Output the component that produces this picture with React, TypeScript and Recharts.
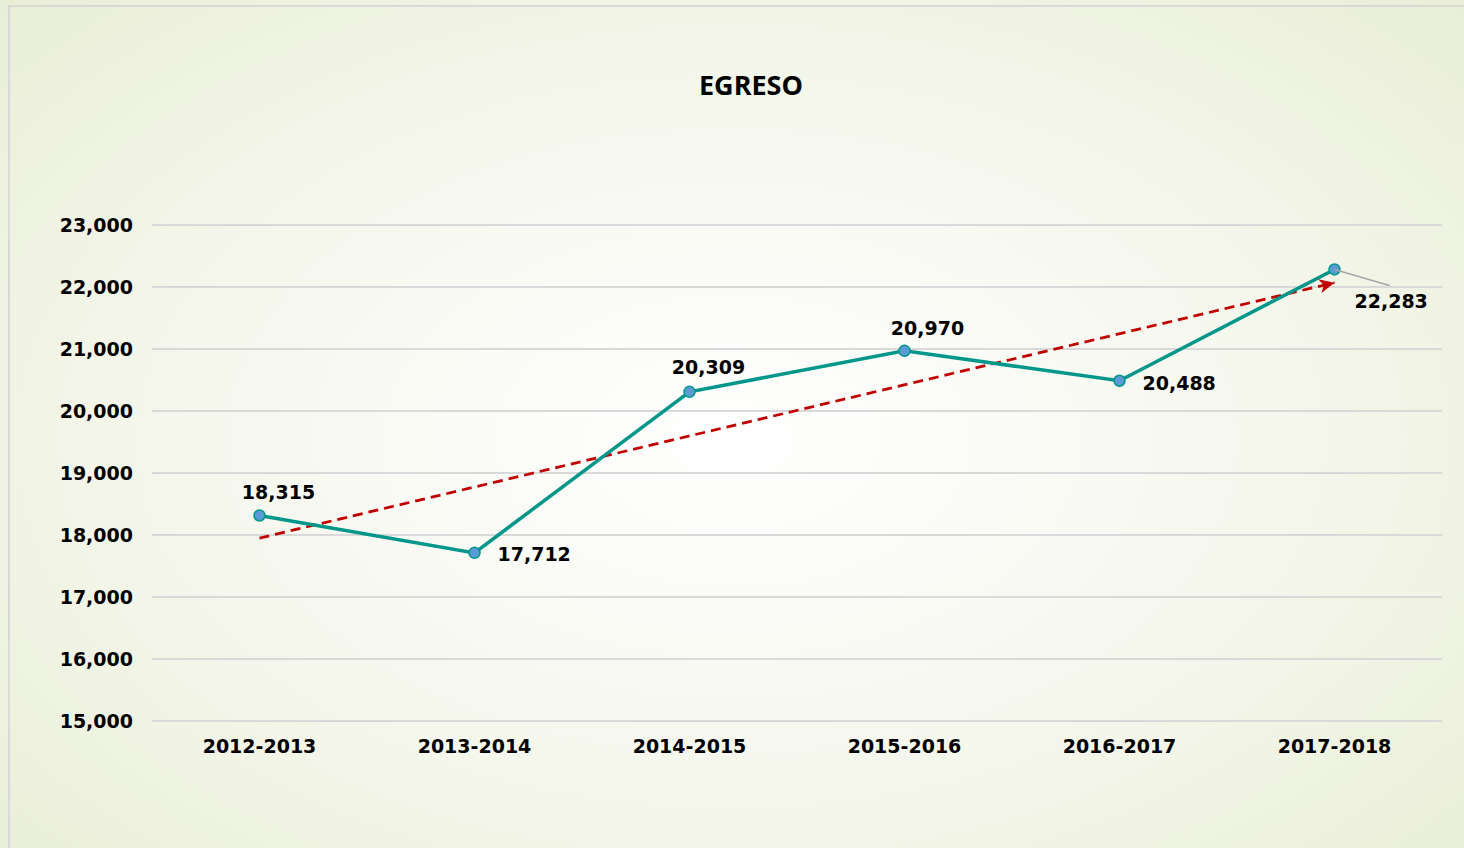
import React from 'react';
import { LineChart, Line, XAxis, YAxis, CartesianGrid } from 'recharts';

const periods = ['2012-2013', '2013-2014', '2014-2015', '2015-2016', '2016-2017', '2017-2018'];
const egreso = [18315, 17712, 20309, 20970, 20488, 22283];
// dashed trend: only its two ends
const trend = [17950, null, null, null, null, 22070];
const yTicks = [15000, 16000, 17000, 18000, 19000, 20000, 21000, 22000, 23000];

// where each value label sits relative to its point: [dx, dy, anchor]
const labelOffsets: [number, number, 'start' | 'middle'][] = [
  [19, -16, 'middle'],
  [23, 8, 'start'],
  [19, -18, 'middle'],
  [23, -16, 'middle'],
  [23, 9, 'start'],
  [20, 39, 'start'],
];

const data = periods.map((p, i) => ({ period: p, egreso: egreso[i], trend: trend[i] }));

const FONT = '"DejaVu Sans", Verdana, sans-serif';
const FS = 19;
const fmt = (v: number) => v.toLocaleString('en-US');

const renderLabel = (props: any) => {
  const { x, y, value, index } = props;
  const [dx, dy, anchor] = labelOffsets[index];
  return (
    <g key={`lbl-${index}`}>
      {index === 5 && <line x1={x} y1={y} x2={x + 55} y2={y + 16} stroke="#a6a6a6" strokeWidth={1.5} />}
      <text
        x={x + dx}
        y={y + dy}
        textAnchor={anchor}
        fontFamily={FONT}
        fontWeight="bold"
        fontSize={FS}
        fill="#000"
      >
        {fmt(value)}
      </text>
    </g>
  );
};

// arrow head at the end of the trend line
const TrendArrow = (props: any) => {
  const { cx, cy, index } = props;
  if (index !== 5 || cx == null) return <g key={`ta-${index}`} />;
  return (
    <polygon
      key={`ta-${index}`}
      points="0,0 -15,-7 -11,0 -15,7"
      transform={`translate(${cx},${cy}) rotate(-13.3)`}
      fill="#c00000"
    />
  );
};

const App: React.FC = () => {
  return (
    <div
      style={{
        position: 'absolute',
        left: 0,
        top: 0,
        width: 1464,
        height: 848,
        overflow: 'hidden',
        background: 'radial-gradient(ellipse 75% 80% at 50% 52%, #ffffff 0%, #f6f8ef 45%, #e7edd3 100%)',
      }}
    >
      <div
        style={{
          position: 'absolute',
          left: 8,
          top: 5,
          width: 1480,
          height: 870,
          border: '2px solid #d9d9d9',
          boxSizing: 'border-box',
        }}
      />
      <div
        style={{
          position: 'absolute',
          left: 0,
          top: 66,
          width: 1502,
          textAlign: 'center',
          fontFamily: '"Open Sans", Lato, sans-serif',
          fontWeight: 'bold',
          fontSize: 27,
          color: '#000',
        }}
      >
        EGRESO
      </div>
      <div style={{ position: 'absolute', left: 0, top: 0 }}>
        <LineChart width={1464} height={848} data={data} margin={{ top: 225, right: 22, bottom: 97, left: 0 }}>
          <CartesianGrid vertical={false} stroke="#d9d9d9" strokeWidth={2} />
          <XAxis
            dataKey="period"
            height={30}
            padding={{ left: 107.5, right: 107.5 }}
            axisLine={false}
            tickLine={false}
            tickSize={0}
            tickMargin={19}
            interval={0}
            tick={{ fontFamily: FONT, fontWeight: 'bold', fontSize: FS, fill: '#000' }}
          />
          <YAxis
            width={152}
            domain={[15000, 23000]}
            ticks={yTicks}
            tickFormatter={fmt}
            axisLine={false}
            tickLine={false}
            tickSize={0}
            tickMargin={19}
            interval={0}
            tick={{ fontFamily: FONT, fontWeight: 'bold', fontSize: FS, fill: '#000' }}
          />
          <Line
            dataKey="trend"
            connectNulls
            stroke="#c00000"
            strokeWidth={2.75}
            strokeDasharray="10 6"
            dot={TrendArrow}
            activeDot={false}
            isAnimationActive={false}
          />
          <Line
            dataKey="egreso"
            stroke="#00968a"
            strokeWidth={3.5}
            dot={{ r: 5.5, fill: '#5b9bd5', stroke: '#00968a', strokeWidth: 1.5 }}
            activeDot={false}
            label={renderLabel}
            isAnimationActive={false}
          />
        </LineChart>
      </div>
    </div>
  );
};

export default App;
